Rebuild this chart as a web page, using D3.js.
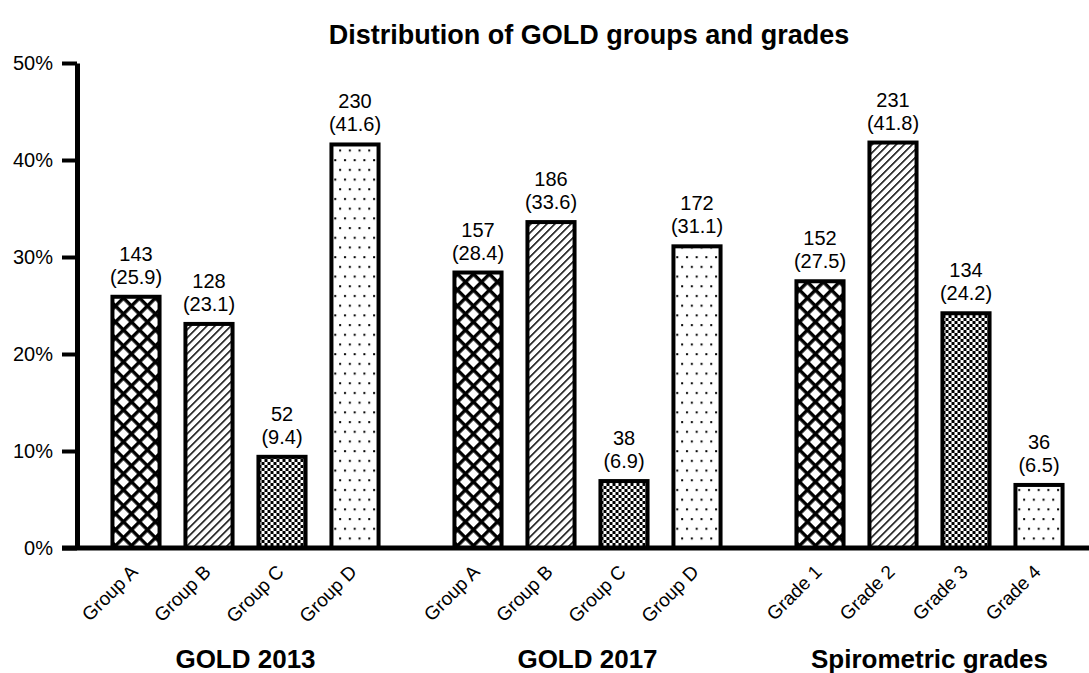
<!DOCTYPE html>
<html><head><meta charset="utf-8">
<script src="https://cdn.jsdelivr.net/npm/d3@7"></script>
<style>
body{margin:0;background:#fff;}
text{font-family:"Liberation Sans",Arial,sans-serif;fill:#000;}
</style></head>
<body><svg id="c" width="1089" height="673"></svg>
<script>
const title = "Distribution of GOLD groups and grades";
const groups = ["GOLD 2013", "GOLD 2017", "Spirometric grades"];
const categories = [
  ["Group A", "Group B", "Group C", "Group D"],
  ["Group A", "Group B", "Group C", "Group D"],
  ["Grade 1", "Grade 2", "Grade 3", "Grade 4"]
];
const counts = [
  [143, 128, 52, 230],
  [157, 186, 38, 172],
  [152, 231, 134, 36]
];
const percents = [
  [25.9, 23.1, 9.4, 41.6],
  [28.4, 33.6, 6.9, 31.1],
  [27.5, 41.8, 24.2, 6.5]
];
const yTicks = [0, 10, 20, 30, 40, 50];
const patternIds = ["cross", "diag", "checker", "dots"];

const svg = d3.select("#c");
const defs = svg.append("defs");
// crosshatch
const p1 = defs.append("pattern").attr("id","cross").attr("patternUnits","userSpaceOnUse")
  .attr("width",11.3).attr("height",11.3).attr("patternTransform","rotate(45)");
p1.append("rect").attr("width",11.3).attr("height",11.3).attr("fill","#fff");
p1.append("rect").attr("x",0).attr("y",0).attr("width",3.4).attr("height",11.3).attr("fill","#000");
p1.append("rect").attr("x",0).attr("y",0).attr("width",11.3).attr("height",3.4).attr("fill","#000");
// diagonal
const p2 = defs.append("pattern").attr("id","diag").attr("patternUnits","userSpaceOnUse")
  .attr("width",5.66).attr("height",10).attr("patternTransform","rotate(45)");
p2.append("rect").attr("width",5.66).attr("height",10).attr("fill","#fff");
p2.append("rect").attr("x",0).attr("y",0).attr("width",1.5).attr("height",10).attr("fill","#000");
// checker
const p3 = defs.append("pattern").attr("id","checker").attr("patternUnits","userSpaceOnUse")
  .attr("width",6).attr("height",6);
p3.append("rect").attr("width",6).attr("height",6).attr("fill","#fff");
p3.append("rect").attr("x",0).attr("y",0).attr("width",3).attr("height",3).attr("fill","#000");
p3.append("rect").attr("x",3).attr("y",3).attr("width",3).attr("height",3).attr("fill","#000");
// dots
const p4 = defs.append("pattern").attr("id","dots").attr("patternUnits","userSpaceOnUse")
  .attr("width",9.7).attr("height",19.4);
p4.append("rect").attr("width",9.7).attr("height",19.4).attr("fill","#fff");
p4.append("rect").attr("x",2).attr("y",4).attr("width",2).attr("height",2).attr("fill","#000");
p4.append("rect").attr("x",6.85).attr("y",13.7).attr("width",2).attr("height",2).attr("fill","#000");

const y = d3.scaleLinear().domain([0, 50]).range([548, 63]);
const xOuter = d3.scaleBand().domain(d3.range(groups.length)).range([99.5, 1075.5]).paddingInner(50/342).paddingOuter(0);
const xInner = d3.scaleBand().domain(d3.range(4)).range([0, xOuter.bandwidth()]).paddingInner(0.3).paddingOuter(0.15);

svg.append("text").attr("x", 589).attr("y", 44).attr("text-anchor","middle")
  .attr("font-size", 27).attr("font-weight","bold").text(title);

// y axis
const yAxis = d3.axisLeft(y).tickValues(yTicks).tickSize(15).tickSizeOuter(0).tickPadding(9)
  .tickFormat(d => d + "%");
const ga = svg.append("g").attr("transform","translate(77,0)").call(yAxis);
ga.select(".domain").attr("stroke","#000").attr("stroke-width",5);
ga.selectAll(".tick line").attr("stroke","#000").attr("stroke-width",4);
ga.selectAll(".tick text").attr("font-size",20).attr("font-family","Liberation Sans, Arial, sans-serif").attr("fill","#000");

groups.forEach((g, gi) => {
  const gx = xOuter(gi);
  const gg = svg.append("g").attr("transform", `translate(${gx},0)`);
  categories[gi].forEach((c, ci) => {
    const bx = xInner(ci), bw = xInner.bandwidth();
    const v = percents[gi][ci];
    gg.append("rect").attr("x", bx + 2).attr("y", y(v)).attr("width", bw - 4).attr("height", y(0) - y(v))
      .attr("fill", `url(#${patternIds[ci]})`).attr("stroke","#000").attr("stroke-width",4);
    const cx = bx + bw / 2;
    gg.append("text").attr("x", cx).attr("y", y(v) - 36).attr("text-anchor","middle").attr("font-size",20).text(counts[gi][ci]);
    gg.append("text").attr("x", cx).attr("y", y(v) - 13).attr("text-anchor","middle").attr("font-size",20).text(`(${v.toFixed(1)})`);
    gg.append("text").attr("transform", `translate(${cx + 3},${573}) rotate(-45)`).attr("text-anchor","end")
      .attr("font-size",19).text(c);
  });
  svg.append("text").attr("x", gx + xOuter.bandwidth()/2).attr("y", 668).attr("text-anchor","middle")
    .attr("font-size",26).attr("font-weight","bold").text(g);
});

// x axis baseline
svg.append("line").attr("x1", 62).attr("x2", 1089).attr("y1", y(0)).attr("y2", y(0)).attr("stroke","#000").attr("stroke-width",5);
</script></body></html>
